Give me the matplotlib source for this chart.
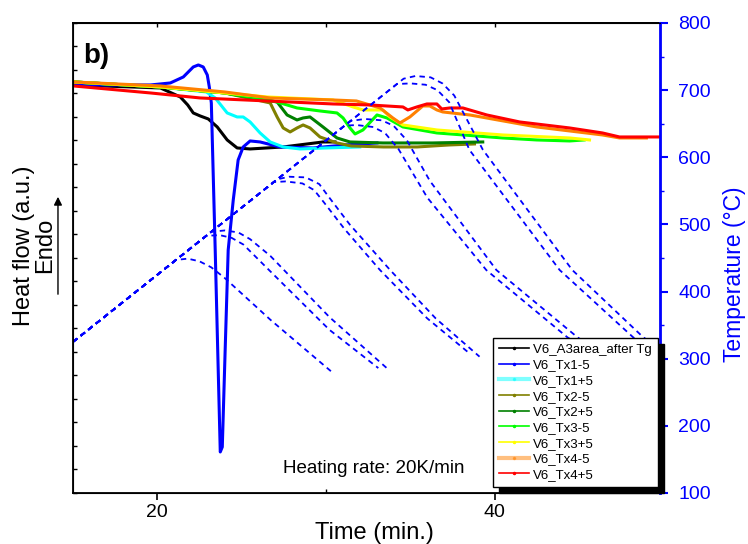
import matplotlib
matplotlib.use("Agg")
import matplotlib.pyplot as plt
from matplotlib.lines import Line2D
from matplotlib.ticker import MultipleLocator, FixedLocator, NullFormatter

plt.rcParams['font.family'] = ['Liberation Sans', 'DejaVu Sans']

# ---- heat flow curves (time in min, heat flow in a.u.) ----
t_a3 = [15.03, 20.18, 21.36, 21.8, 22.13, 22.54, 23.02, 23.55, 24.14, 24.73, 25.5, 27.46, 29.82, 30.53]
hf_a3 = [408, 405, 396, 388, 380, 377, 374, 366, 353, 345, 344, 346, 351, 351]

t_tx1m = [15.03, 19.59, 20.77, 21.54, 22.13, 22.43, 22.72, 22.96, 23.08, 23.2, 23.43, 23.73, 23.85,
          24.02, 24.2, 24.5, 24.79, 25.09, 25.5, 26.09, 27.28, 29.23, 31.12, 33.02]
hf_tx1m = [408, 408, 410, 416, 426, 428, 426, 418, 406, 390, 243, 41, 46,
           143, 243, 293, 333, 346, 352, 351, 346, 345, 348, 350]

t_tx1p = [15.03, 20.18, 22.9, 23.43, 24.14, 24.73, 25.09, 25.5, 26.09, 26.69, 27.46, 28.46, 30.0, 32.0]
hf_tx1p = [411, 406, 401, 395, 380, 376, 376, 371, 360, 351, 346, 344, 345, 346]

t_tx2m = [15.03, 20.18, 24.0, 26.69, 27.1, 27.46, 27.87, 28.28, 28.64, 29.05, 29.64, 30.65, 31.5,
          33.4, 35.4, 37.3, 38.8]
hf_tx2m = [411, 406, 400, 390, 376, 365, 361, 365, 368, 365, 356, 350, 347,
           346, 346, 348, 349]

t_tx2p = [15.03, 20.18, 24.0, 27.1, 27.69, 28.28, 28.64, 29.05, 29.82, 30.65, 31.42, 33.37, 36.3, 39.29]
hf_tx2p = [411, 406, 400, 391, 378, 373, 375, 376, 366, 355, 351, 350, 350, 351]

t_tx3m = [15.03, 20.18, 24.0, 25.5, 27.1, 28.28, 29.64, 30.65, 31.01, 31.42, 31.72, 32.19, 33.02,
          33.61, 34.56, 36.57, 40.47, 42.49, 44.44, 45.3]
hf_tx3m = [411, 406, 400, 396, 391, 385, 382, 380, 375, 365, 359, 363, 378,
           375, 366, 360, 355, 353, 352, 353]

t_tx3p = [15.03, 20.18, 24.0, 26.51, 30.41, 31.6, 32.19, 33.37, 33.79, 34.56, 36.57, 40.47, 44.44, 45.62]
hf_tx3p = [411, 406, 400, 396, 393, 386, 383, 383, 376, 368, 363, 358, 355, 353]

t_tx4m = [15.03, 20.18, 24.0, 26.69, 30.41, 31.8, 33.2, 33.96, 34.38, 34.97, 35.74, 36.15, 36.57,
          36.92, 38.52, 42.49, 46.39, 47.4, 48.99]
hf_tx4m = [411, 407, 401, 395, 393, 392, 385, 375, 370, 376, 387, 387, 383,
           381, 378, 366, 358, 355, 355]

t_tx4p = [15.03, 19.59, 22.54, 26.51, 30.41, 32.6, 34.56, 34.85, 35.38, 35.98, 36.57, 36.86, 37.34,
          38.11, 39.53, 41.48, 44.44, 46.39, 47.4, 49.76]
hf_tx4p = [407, 400, 395, 392, 389, 388, 386, 383, 386, 389, 389, 384, 385,
           385, 378, 371, 365, 360, 356, 356]

labels = ['V6_A3area_after Tg', 'V6_Tx1-5', 'V6_Tx1+5', 'V6_Tx2-5', 'V6_Tx2+5',
          'V6_Tx3-5', 'V6_Tx3+5', 'V6_Tx4-5', 'V6_Tx4+5']
colors = ['#000000', '#0000ff', '#00ffff', '#808000', '#008000',
          '#00ff00', '#ffff00', '#ff8000', '#ff0000']

# ---- temperature programs (time in min, T in degC) ----
t_temp = [
    [15.0, 21.1, 21.8, 22.5, 23.2, 24.0, 26.7, 30.4],
    [15.0, 23.2, 24.0, 24.8, 25.5, 26.7, 30.2, 33.6],
    [15.0, 22.9, 23.7, 24.4, 25.1, 26.7, 30.2, 33.1],
    [15.0, 27.1, 27.8, 28.8, 29.6, 30.1, 31.4, 33.8, 36.5, 39.1],
    [15.0, 26.9, 27.6, 28.6, 29.3, 29.9, 31.1, 33.2, 36.0, 38.5],
    [15.0, 31.45, 32.3, 33.3, 34.0, 34.8, 36.15, 40.1, 44.9, 46.5],
    [15.0, 31.1, 31.8, 32.8, 33.5, 34.3, 36.0, 39.5, 44.3, 46.0],
    [15.0, 34.6, 35.3, 36.2, 36.9, 37.6, 39.3, 44.6, 48.8, 49.8],
    [15.0, 34.2, 35.0, 35.9, 36.6, 37.3, 38.5, 43.85, 48.2, 49.8],
]
T_temp = [
    [325, 447, 449, 445, 436, 420, 358, 279],
    [325, 489, 491, 488, 478, 453, 362, 286],
    [325, 483, 484, 480, 470, 430, 343, 286],
    [325, 567, 571, 570, 560, 543, 500, 432, 360, 303],
    [325, 563, 564, 561, 551, 532, 493, 432, 360, 308],
    [325, 654, 657, 655, 647, 625, 565, 432, 332, 305],
    [325, 647, 648, 645, 636, 612, 540, 432, 332, 305],
    [325, 717, 721, 719, 710, 692, 611, 432, 332, 315],
    [325, 709, 710, 708, 700, 682, 611, 432, 332, 305],
]

fig = plt.figure(figsize=(7.48, 5.44), dpi=100)
ax1 = fig.add_axes([0.0976, 0.0938, 0.7848, 0.864])

hf_t = [t_a3, t_tx1m, t_tx1p, t_tx2m, t_tx2p, t_tx3m, t_tx3p, t_tx4m, t_tx4p]
hf_v = [hf_a3, hf_tx1m, hf_tx1p, hf_tx2m, hf_tx2p, hf_tx3m, hf_tx3p, hf_tx4m, hf_tx4p]
for t, v, c in zip(hf_t, hf_v, colors):
    ax1.plot(t, v, color=c, lw=2.2)

ax1.set_xlim(15, 49.8)
ax1.set_ylim(0, 470)
ax1.xaxis.set_major_locator(FixedLocator([20, 40]))
ax1.xaxis.set_minor_locator(FixedLocator([30]))
ax1.yaxis.set_major_locator(MultipleLocator(23.5))
ax1.yaxis.set_major_formatter(NullFormatter())
ax1.tick_params(axis='x', which='major', direction='out', length=5, width=1.2, labelsize=14, pad=3)
ax1.tick_params(axis='x', which='minor', direction='in', length=3, width=1)
ax1.tick_params(axis='y', which='major', direction='in', length=3, width=1)
for s in ['left', 'bottom', 'top']:
    ax1.spines[s].set_linewidth(1.3)

top = ax1.secondary_xaxis('top')
top.set_xticks([20, 30, 40])
top.tick_params(direction='in', length=3, width=1, labeltop=False)
top.spines['top'].set_linewidth(1.3)

ax1.set_xlabel('Time (min.)', fontsize=17)
ax1.xaxis.set_label_coords(0.513, -0.062)
ax1.set_ylabel('Heat flow (a.u.)', fontsize=17)
ax1.yaxis.set_label_coords(-0.064, 0.526)
ax1.text(-0.047, 0.527, 'Endo', transform=ax1.transAxes, rotation=90,
         fontsize=17, ha='center', va='center')
ax1.annotate('', xy=(-0.0256, 0.636), xytext=(-0.0256, 0.417), xycoords='axes fraction',
             arrowprops=dict(arrowstyle='-|>', color='black', lw=1, mutation_scale=12),
             annotation_clip=False)
ax1.text(0.017, 0.957, 'b)', transform=ax1.transAxes, fontsize=20, fontweight='bold',
         ha='left', va='top')
ax1.text(0.358, 0.0426, 'Heating rate: 20K/min', transform=ax1.transAxes,
         fontsize=13.5, ha='left', va='baseline')

ax2 = ax1.twinx()
for t, T in zip(t_temp, T_temp):
    ax2.plot(t, T, color='#0000ff', lw=1.3, dashes=(3, 2.4))
ax2.set_ylim(100, 800)
ax2.set_xlim(15, 49.8)
ax2.yaxis.set_major_locator(MultipleLocator(100))
ax2.yaxis.set_minor_locator(MultipleLocator(50))
ax2.tick_params(axis='y', which='major', colors='#0000ff', direction='out', length=6,
                width=1.5, labelsize=14, pad=7)
ax2.tick_params(axis='y', which='minor', colors='#0000ff', direction='out', length=3, width=1)
ax2.spines['right'].set_color('#0000ff')
ax2.spines['right'].set_linewidth(2)
ax2.set_ylabel('Temperature (°C)', fontsize=16.5, color='#0000ff')
ax2.yaxis.set_label_coords(1.108, 0.466)

handles = []
for lab, c in zip(labels, colors):
    if lab in ('V6_Tx1+5', 'V6_Tx4-5'):
        handles.append(Line2D([], [], color=c, lw=3, alpha=0.5, marker='.', ms=3))
    else:
        handles.append(Line2D([], [], color=c, lw=1.2, marker='.', ms=3))
leg = ax2.legend(handles, labels, loc='lower right', bbox_to_anchor=(0.9966, 0.0128),
                 borderaxespad=0, fontsize=9.5, labelspacing=0.26, handlelength=2.3,
                 handletextpad=0.3, borderpad=0.45, fancybox=False, framealpha=1,
                 edgecolor='black',
                 shadow={'ox': 4.5, 'oy': -4.5, 'facecolor': 'black',
                         'edgecolor': 'black', 'alpha': 1})
leg.get_frame().set_linewidth(1)

fig.savefig('out.png', dpi=100)
